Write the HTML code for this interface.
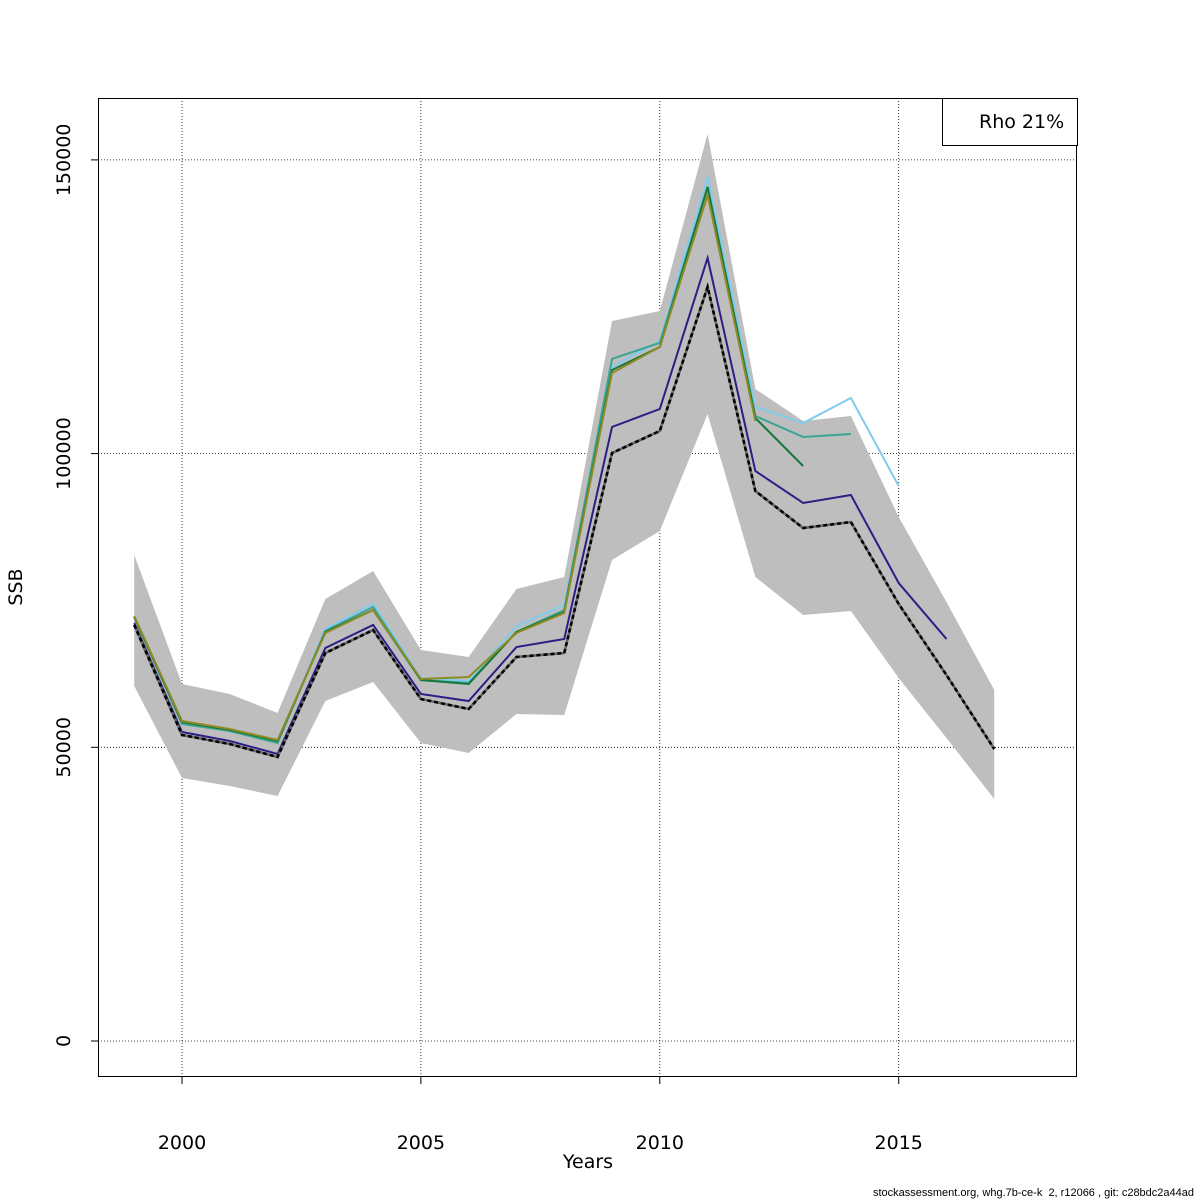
<!DOCTYPE html>
<html><head><meta charset="utf-8"><style>
body{margin:0;background:#fff;}
svg{display:block;font-family:"DejaVu Sans","Liberation Sans",sans-serif;}
</style></head><body>
<svg id="c" width="1200" height="1200" xmlns="http://www.w3.org/2000/svg"></svg>
<script>
const years=[1999,2000,2001,2002,2003,2004,2005,2006,2007,2008,2009,2010,2011,2012,2013,2014,2015,2016,2017];
const finalSSB=[70830,52100,50560,48350,66050,69970,58220,56520,65370,66050,100100,103850,128360,93630,87330,88350,74400,62300,49710];
const upperCI=[82740,60780,59080,55840,75250,80020,66560,65370,76950,78990,122570,124280,154410,111000,105550,106400,89200,74740,59760];
const lowerCI=[60440,44770,43410,41710,57880,61120,50730,49030,55670,55500,81890,86830,106740,78990,72520,73200,61800,51580,41200];
const peel2016=[71170,52610,51070,48860,66900,70830,59080,57880,67070,68440,104530,107590,133300,97040,91590,92950,77970,68440];
const peel2015=[72180,54140,52950,50900,70140,74400,61800,61290,70650,74220,114760,119170,147090,107930,105210,109470,94480];
const peel2014=[72180,53970,52770,50730,69800,73880,61460,60950,69630,73370,116120,118850,145390,106400,102830,103340];
const peel2013=[72180,54310,52950,51070,69630,73370,61460,60780,69630,73030,114230,118150,145390,106060,97890];
const peel2012=[72350,54480,53110,51240,69460,73370,61630,61970,69460,72860,113720,118150,144020,105550];
const xTicks=[2000,2005,2010,2015];
const yTicks=[0,50000,100000,150000];

const NS="http://www.w3.org/2000/svg";
const svg=document.getElementById('c');
const X=y=>182+(y-2000)*47.78;
const Y=v=>1041-v*293.7/50000;
function el(t,a,p){const e=document.createElementNS(NS,t);for(const k in a)e.setAttribute(k,a[k]);(p||svg).appendChild(e);return e;}

xTicks.forEach(t=>{const l=el('line',{x1:X(t),x2:X(t),y1:98,y2:1077,stroke:'#000','stroke-width':0.8,'stroke-dasharray':'1,2'});

});
yTicks.forEach(t=>{const l=el('line',{x1:98,x2:1077,y1:Y(t),y2:Y(t),stroke:'#000','stroke-width':0.8,'stroke-dasharray':'1,2'});

});

let pts=years.map((y,i)=>X(y)+','+Y(upperCI[i]));
for(let i=years.length-1;i>=0;i--)pts.push(X(years[i])+','+Y(lowerCI[i]));
const band=el('polygon',{points:pts.join(' '),fill:'#bebebe'});



function line(vals,col,name,w,dash){
  const p=el('polyline',{points:vals.map((v,i)=>X(years[i])+','+Y(v)).join(' '),fill:'none',stroke:col,'stroke-width':w||2});
  if(dash)p.setAttribute('stroke-dasharray',dash);
  
  
}
line(peel2016,'#2d1e86','peel-2016-line');
line(peel2015,'#82cbeb','peel-2015-line');
line(peel2014,'#3aa593','peel-2014-line');
line(peel2013,'#14783a','peel-2013-line');
line(peel2012,'#8f8a24','peel-2012-line');
line(finalSSB,'#666','final-ssb-line',2.6);
line(finalSSB,'#000','final-ssb-dash',2.6,'4,3');

const box=el('rect',{x:98.5,y:98.5,width:978,height:978,fill:'none',stroke:'#000','stroke-width':1});


xTicks.forEach(t=>{el('line',{x1:X(t),x2:X(t),y1:1077,y2:1084,stroke:'#000'});
const tx=el('text',{x:X(t),y:1149,'text-anchor':'middle','font-size':19});tx.textContent=t;

});
yTicks.forEach(t=>{el('line',{x1:91,x2:98,y1:Y(t),y2:Y(t),stroke:'#000'});
const tx=el('text',{x:70,y:Y(t),'text-anchor':'middle','font-size':19,transform:`rotate(-90 70 ${Y(t)})`});tx.textContent=t;

});
</script>
<div style="position:absolute;left:0;top:0;width:1200px;height:1200px;pointer-events:none;font-family:'DejaVu Sans','Liberation Sans',sans-serif;">
  <div style="position:absolute;left:540px;top:1151px;width:96px;text-align:center;font-size:19px;">Years</div>
  <div style="position:absolute;left:-14px;top:576px;width:60px;text-align:center;font-size:19px;transform:rotate(-90deg);">SSB</div>
  <div style="position:absolute;left:942px;top:98px;width:136px;height:48px;border:1px solid #000;box-sizing:border-box;background:#fff;">
    <span style="position:absolute;left:36px;top:12px;font-size:19px;">Rho 21%</span>
  </div>
  <div style="position:absolute;right:6px;top:1187px;font-size:11px;font-family:'Liberation Sans',sans-serif;">stockassessment.org, whg.7b-ce-k&nbsp; 2, r12066 , git: c28bdc2a44ad</div>
</div>
</body></html>
